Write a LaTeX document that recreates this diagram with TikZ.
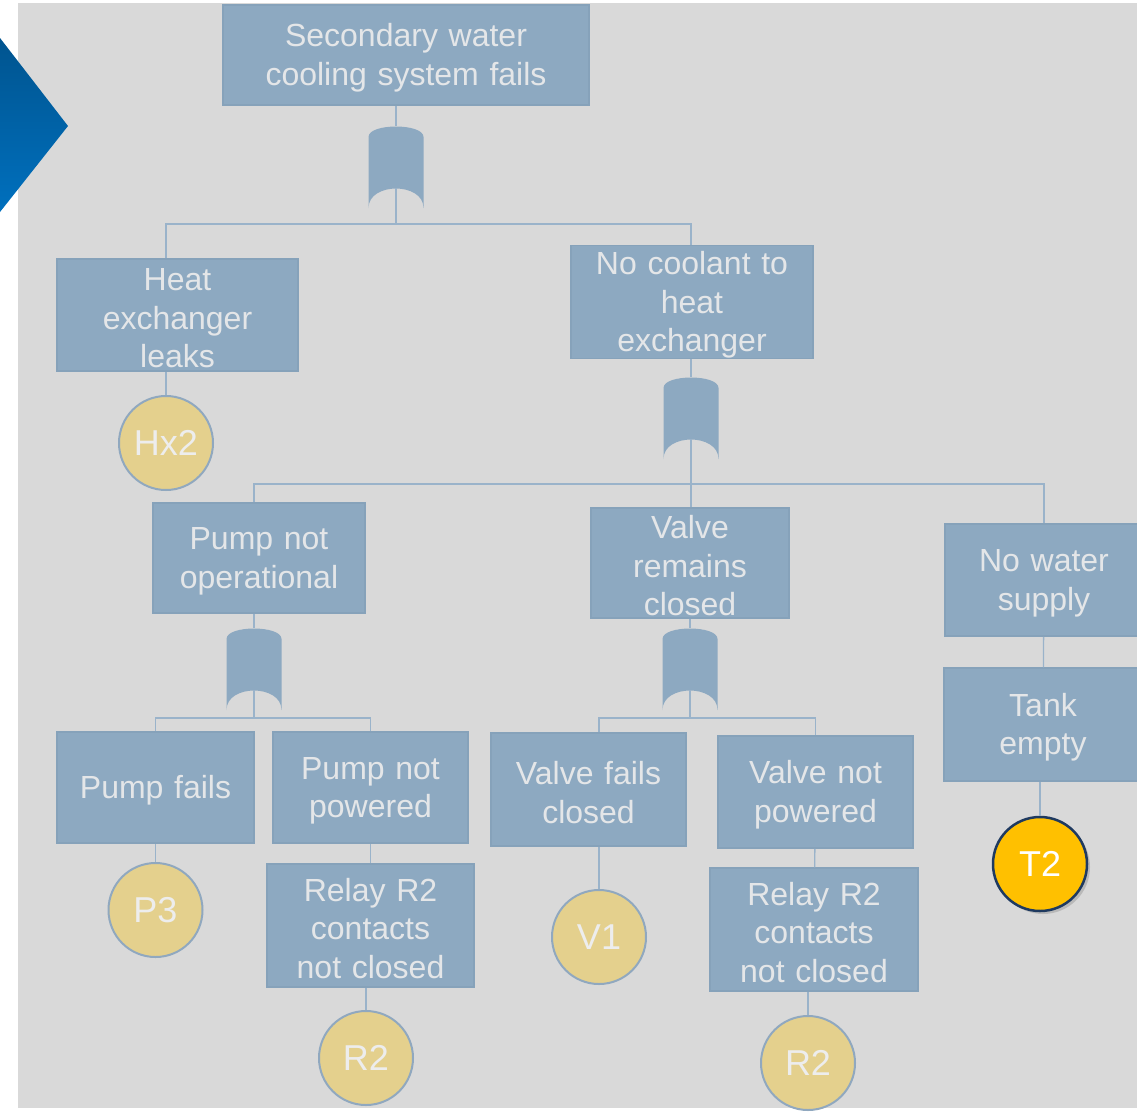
\documentclass[tikz,border=0pt]{standalone}
\usepackage{fontspec}
\setmainfont{Liberation Sans}
\usepackage{xcolor}
\usetikzlibrary{shadows}
\definecolor{bgGrey}{HTML}{D9D9D9}
\definecolor{boxFill}{HTML}{8DA9C1}
\definecolor{boxLine}{HTML}{86A2BA}
\definecolor{boxText}{HTML}{E4E6E8}
\definecolor{circFill}{HTML}{E4D08D}
\definecolor{circLine}{HTML}{90A8BF}
\definecolor{circText}{HTML}{EDEDED}
\definecolor{linkLine}{HTML}{9AB3CA}
\definecolor{tFill}{HTML}{FFC000}
\definecolor{tLine}{HTML}{1F3A60}
\definecolor{chevDark}{HTML}{00548F}
\definecolor{chevLight}{HTML}{0070BE}

\begin{document}
\begin{tikzpicture}[
    x=1pt, y=-1pt,
    event/.style={rectangle, draw=boxLine, line width=1.5pt, fill=boxFill, text=boxText, align=center, inner sep=0pt,
        font=\fontsize{32}{38.5}\selectfont, execute at begin node={\rule{0pt}{29pt}}},
    boxsize/.style 2 args={text width=#1pt, minimum height=#2pt},
    basic/.style={circle, draw=circLine, line width=2pt, fill=circFill, text=circText, minimum size=94pt, inner sep=0pt, font=\fontsize{36}{40}\selectfont},
    link/.style={draw=linkLine, line width=1.3pt},
    orgate/.pic={
        \fill[boxFill] (-27.5,11) .. controls (-27.5,-3) and (27.5,-3) .. (27.5,11) -- (27.5,82)
            .. controls (27.5,56) and (-27.5,56) .. (-27.5,82) -- cycle;
        \coordinate (-in) at (0,0);
        \coordinate (-out) at (0,62);
    }
]
    \useasboundingbox (0,0) rectangle (1137,1111);
    \fill[bgGrey] (18,3) rectangle (1137,1108);
    \shade[shading angle=180, top color=chevDark, middle color=chevDark!60!chevLight, bottom color=chevLight] (0,38) -- (68,126) -- (0,212) -- cycle;

    \node [event, boxsize={366}{100}] (top) at (406,55) {Secondary water\\cooling system fails};
    \node [event, boxsize={241}{112}] (hxleak) at (177.5,315) {Heat\\exchanger\\leaks};
    \node [event, boxsize={242}{112}] (nocool) at (692,302) {No coolant to\\heat\\exchanger};
    \node [event, boxsize={212}{110}] (pumpnop) at (259,558) {Pump not\\operational};
    \node [event, boxsize={198}{110}] (valvecl) at (690,563) {Valve\\remains\\closed};
    \node [event, boxsize={198}{112}] (nowater) at (1044,580) {No water\\supply};
    \node [event, boxsize={198}{113}] (tank) at (1043,724.5) {Tank\\empty};
    \node [event, boxsize={197}{111}] (pumpfail) at (155.5,787.5) {Pump fails};
    \node [event, boxsize={195}{111}] (pumpnpw) at (370.5,787.5) {Pump not\\powered};
    \node [event, boxsize={195}{113}] (valvefail) at (588.5,789.5) {Valve fails\\closed};
    \node [event, boxsize={195}{112}] (valvenpw) at (815.5,792) {Valve not\\powered};
    \node [event, boxsize={207}{123}] (relayL) at (370.5,925.5) {Relay R2\\contacts\\not closed};
    \node [event, boxsize={208}{123}] (relayR) at (814,929.5) {Relay R2\\contacts\\not closed};

    \node [basic] (hx2) at (166,443) {Hx2};
    \node [basic] (p3) at (155.5,910) {P3};
    \node [basic] (v1) at (599,937) {V1};
    \node [basic] (r2a) at (366,1058) {R2};
    \node [basic] (r2b) at (808,1063) {R2};
    \node [basic, fill=tFill, draw=tLine, line width=2.5pt, text=white,
        drop shadow={shadow xshift=3pt, shadow yshift=-3pt, opacity=0.35}] (t2) at (1040,864) {T2};

    \pic (g1) at (396,126) {orgate};
    \pic (g2) at (691,377) {orgate};
    \pic (g3) at (254,628) {orgate};
    \pic (g4) at (690,628) {orgate};

    \coordinate (bus1) at (396,224);
    \coordinate (bus2) at (691,484);
    \coordinate (bus3) at (254,718);
    \coordinate (bus4) at (690,718);

    \draw [link] (top.south -| g1-in) -- (g1-in);
    \draw [link] (g1-out) -- (bus1);
    \draw [link] (hxleak.north -| hx2) |- (bus1) -| (nocool.north -| g2-in);
    \draw [link] (hxleak.south -| hx2) -- (hx2);
    \draw [link] (nocool.south -| g2-in) -- (g2-in);
    \draw [link] (g2-out) -- (valvecl.north -| g2-out);
    \draw [link] (pumpnop.north -| g3-in) |- (bus2) -| (nowater.north);
    \draw [link] (pumpnop.south -| g3-in) -- (g3-in);
    \draw [link] (g3-out) -- (bus3);
    \draw [link] (pumpfail.north) |- (bus3) -| (pumpnpw.north);
    \draw [link] (valvecl.south -| g4-in) -- (g4-in);
    \draw [link] (g4-out) -- (bus4);
    \draw [link] (valvefail.north -| v1) |- (bus4) -| (valvenpw.north);
    \draw [link] (pumpfail) -- (p3);
    \draw [link] (pumpnpw) -- (relayL);
    \draw [link] (relayL.south -| r2a) -- (r2a);
    \draw [link] (valvefail.south -| v1) -- (v1);
    \draw [link] (valvenpw) -- (relayR);
    \draw [link] (relayR.south -| r2b) -- (r2b);
    \draw [link] (nowater) -- (tank);
    \draw [link] (tank.south -| t2) -- (t2);
\end{tikzpicture}
\end{document}
